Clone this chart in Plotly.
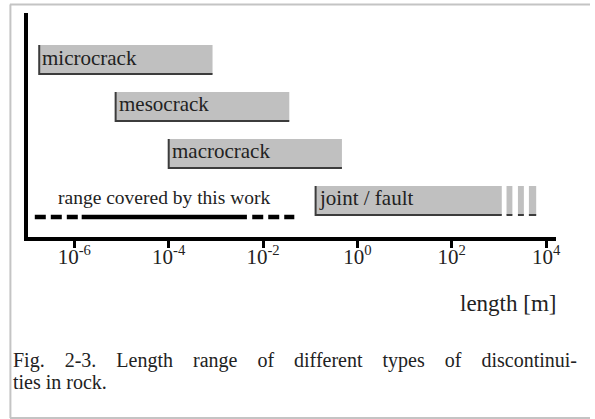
import math
import plotly.graph_objects as go

W, H = 595, 419

# ---------------- data ----------------
categories = ["microcrack", "mesocrack", "macrocrack", "joint / fault"]
length_min = [1.8e-7, 7.5e-6, 1.0e-4, 0.13]      # m
length_max = [8.5e-4, 3.6e-2, 0.47, 1150]         # m
# broken continuation of the joint / fault bar
fault_ext_min = [1450, 2530, 4320]
fault_ext_max = [1930, 3380, 6170]
# range covered by this work
work_label = "range covered by this work"
work_solid = [1.43e-6, 4.55e-3]
work_dash_left = [1.45e-7, 1.43e-6]
work_dash_right = [5.9e-3, 4.6e-2]
tick_vals = [1e-6, 1e-4, 1e-2, 1e0, 1e2, 1e4]
tick_text = ["10<sup>-6</sup>", "10<sup>-4</sup>", "10<sup>-2</sup>",
             "10<sup>0</sup>", "10<sup>2</sup>", "10<sup>4</sup>"]
x_title = "length [m]"
caption_line1 = ["Fig.", "2-3.", "Length", "range", "of", "different", "types", "of", "discontinui-"]
caption_line2 = "ties in rock."

# ---------------- style ----------------
FONT = "Liberation Serif"
FILL = "#c0c0c0"
EDGE = "#3c3c3c"
BORDER = "#c4c4c4"
TXT = "#222222"

def px_x(p):
    return p / W

def px_y(p):
    return 1 - p / H

row_y = [3.82 - i * 1.0 for i in range(len(categories))]
half = 0.31

fig = go.Figure()

# main bars + extension bars
bar_base = list(length_min) + list(fault_ext_min)
bar_size = [e - s for s, e in zip(length_min, length_max)] + \
           [e - s for s, e in zip(fault_ext_min, fault_ext_max)]
bar_y = list(row_y) + [row_y[-1]] * len(fault_ext_min)
fig.add_trace(go.Bar(
    orientation="h", base=bar_base, x=bar_size, y=bar_y, width=2 * half,
    marker=dict(color=FILL, line=dict(width=0)), hoverinfo="skip", showlegend=False))

# shadow edges (left + bottom) of main bars
for s, e, c in zip(length_min, length_max, row_y):
    fig.add_trace(go.Scatter(
        x=[s, s, e], y=[c + half, c - half, c - half], mode="lines",
        line=dict(color=EDGE, width=2), hoverinfo="skip", showlegend=False))
# bottom edges of extension pieces
for s, e in zip(fault_ext_min, fault_ext_max):
    c = row_y[-1]
    fig.add_trace(go.Scatter(
        x=[s, e], y=[c - half, c - half], mode="lines",
        line=dict(color=EDGE, width=2), hoverinfo="skip", showlegend=False))

# range covered by this work
work_y = 0.47
fig.add_trace(go.Scatter(x=work_solid, y=[work_y, work_y], mode="lines",
                         line=dict(color="black", width=4.5), hoverinfo="skip", showlegend=False))
for seg in (work_dash_left, work_dash_right):
    fig.add_trace(go.Scatter(x=seg, y=[work_y, work_y], mode="lines",
                             line=dict(color="black", width=4.5, dash="11px,5px"),
                             hoverinfo="skip", showlegend=False))

annotations = []
for name, s, c in zip(categories, length_min, row_y):
    annotations.append(dict(
        x=math.log10(s), y=c, xref="x", yref="y", text=name, showarrow=False,
        xanchor="left", yanchor="middle", xshift=1, yshift=2,
        font=dict(family=FONT, size=21, color=TXT)))
annotations.append(dict(
    x=math.log10(math.sqrt(work_solid[0] * work_solid[1])), y=work_y + 0.36,
    xref="x", yref="y", text=work_label, showarrow=False,
    xanchor="center", yanchor="middle", yshift=2,
    font=dict(family=FONT, size=19.5, color=TXT)))
annotations.append(dict(
    x=px_x(563), y=px_y(311.7), xref="paper", yref="paper", text=x_title,
    showarrow=False, xanchor="right", yanchor="bottom", yshift=-6,
    font=dict(family=FONT, size=23, color=TXT)))

# caption (first line justified by widened gaps)
gap = " " + "\u00a0" * 3
annotations.append(dict(
    x=px_x(11), y=px_y(369), xref="paper", yref="paper", text=gap.join(caption_line1),
    showarrow=False, xanchor="left", yanchor="bottom", yshift=-5,
    font=dict(family=FONT, size=20, color=TXT)))
annotations.append(dict(
    x=px_x(11), y=px_y(390), xref="paper", yref="paper", text=caption_line2, showarrow=False,
    xanchor="left", yanchor="bottom", yshift=-5,
    font=dict(family=FONT, size=20, color=TXT)))

shapes = [
    dict(type="line", xref="paper", yref="paper", x0=px_x(10.5), x1=px_x(10.5),
         y0=px_y(4.5), y1=px_y(418), line=dict(color=BORDER, width=2)),
    dict(type="line", xref="paper", yref="paper", x0=px_x(10), x1=1,
         y0=px_y(4.5), y1=px_y(4.5), line=dict(color=BORDER, width=2)),
    dict(type="line", xref="paper", yref="paper", x0=px_x(10), x1=1,
         y0=px_y(418), y1=px_y(418), line=dict(color=BORDER, width=2)),
]

fig.update_layout(
    width=W, height=H, margin=dict(l=0, r=0, t=0, b=0),
    paper_bgcolor="white", plot_bgcolor="white",
    barmode="overlay", showlegend=False,
    annotations=annotations, shapes=shapes,
    xaxis=dict(type="log", range=[-6.977, 4.216], domain=[px_x(28.5), px_x(561)],
               showgrid=False, zeroline=False, showline=True, linecolor="black", linewidth=3.5,
               ticks="outside", ticklen=7, tickwidth=3, tickcolor="black",
               tickvals=tick_vals, ticktext=tick_text, ticklabelstandoff=-9,
               tickfont=dict(family=FONT, size=21, color=TXT)),
    yaxis=dict(range=[0.036, 4.81], domain=[px_y(237.3), px_y(13)],
               showgrid=False, zeroline=False, showline=True, linecolor="black", linewidth=3.5,
               showticklabels=False, ticks=""),
)

fig.write_html("out.html", config={"displayModeBar": False},
               post_script="document.body.style.margin='0px';document.body.style.padding='0px';")
